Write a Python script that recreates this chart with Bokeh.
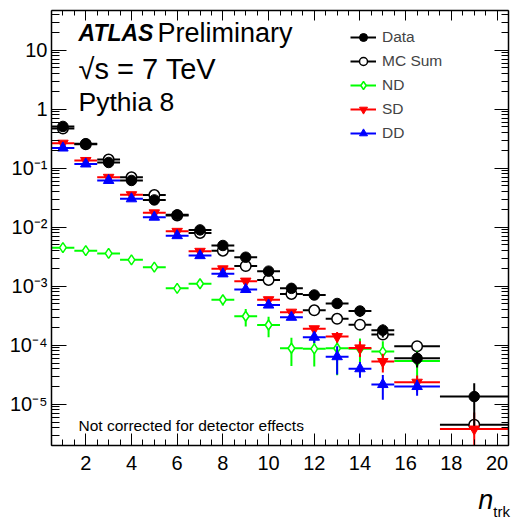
import numpy as np
from bokeh.plotting import figure
from bokeh.layouts import column
from bokeh.models import (ColumnDataSource, Range1d, LinearAxis, LogAxis, FixedTicker,
                          CustomJSTickFormatter, Label, Legend, LegendItem, Div)
from bokeh.embed import file_html
from bokeh.resources import INLINE

# ---------------- data ----------------
n_trk = [1, 2, 3, 4, 5, 6, 7, 8, 9, 10, 11, 12, 13, 14, 15, 16.5, 19]
bin_half_width = [0.5] * 15 + [1.0, 1.5]

data_vals = [0.51, 0.26, 0.125, 0.062, 0.029, 0.0162, 0.0090, 0.0049, 0.0031, 0.0018,
             0.00092, 0.00071, 0.00051, 0.00038, 0.00018, 6.0e-5, 1.35e-5]
data_rel_err = [0.01, 0.01, 0.01, 0.015, 0.02, 0.03, 0.04, 0.05, 0.07, 0.09,
                0.11, 0.13, 0.16, 0.2, 0.25, 0.3, 0.68]

mc_sum_vals = [0.47, 0.255, 0.14, 0.070, 0.035, 0.0158, 0.0080, 0.0040, 0.0022, 0.00128,
               0.00074, 0.00039, 0.00028, 0.000222, 0.000152, 9.6e-5, 4.5e-6]
mc_sum_rel_err = [0.01, 0.01, 0.01, 0.01, 0.01, 0.01, 0.01, 0.01, 0.02, 0.03,
                  0.04, 0.05, 0.06, 0.08, 0.1, 0.12, 0.15]

nd_vals = [0.0045, 0.0040, 0.0036, 0.0028, 0.0021, 0.00092, 0.0011, 0.00059, 0.00031, 0.00022,
           8.9e-5, 8.7e-5, 8.9e-5, 8.7e-5, 7.8e-5, 5.4e-5, float("nan")]
nd_rel_err = [0.05, 0.05, 0.05, 0.06, 0.07, 0.1, 0.1, 0.2, 0.33, 0.38,
              0.5, 0.5, 0.65, 0.5, 0.5, 0.5, float("nan")]

sd_vals = [0.265, 0.135, 0.070, 0.0355, 0.0175, 0.0085, 0.0039, 0.00197, 0.00122, 0.00059,
           0.000363, 0.00019, 0.00014, 9.0e-5, 5.3e-5, 2.36e-5, 3.8e-6]
sd_rel_err = [0.01, 0.01, 0.01, 0.01, 0.01, 0.02, 0.03, 0.04, 0.06, 0.08,
              0.1, 0.12, 0.2, 0.3, 0.35, 0.3, 0.9]

dd_vals = [0.22, 0.118, 0.062, 0.0303, 0.0148, 0.0072, 0.0033, 0.00162, 0.00088, 0.00048,
           0.000298, 0.000137, 6.4e-5, 4.0e-5, 2.16e-5, 2.0e-5, float("nan")]
dd_rel_err = [0.01, 0.01, 0.01, 0.01, 0.01, 0.02, 0.03, 0.04, 0.06, 0.08,
              0.1, 0.2, 0.5, 0.3, 0.45, 0.3, float("nan")]

x_tick_values = [2, 4, 6, 8, 10, 12, 14, 16, 18, 20]
y_tick_exponents = [-5, -4, -3, -2, -1, 0, 1]

FONT = "Liberation Sans"

p = figure(width=511, height=480, output_backend="svg", toolbar_location=None,
           y_axis_type="log", x_range=Range1d(0.5, 20.5), y_range=Range1d(2e-6, 47),
           min_border_left=51, min_border_right=3, min_border_top=10, min_border_bottom=35)
p.outline_line_color = None
p.xgrid.visible = False
p.ygrid.visible = False
p.background_fill_color = "white"
p.border_fill_color = "white"

x_minor = list(np.arange(0.5, 20.51, 0.5))
y_major = [10.0 ** e for e in y_tick_exponents]
y_minor = [m * 10.0 ** e for e in range(-6, 2) for m in range(2, 10)]

sup_js = """
const e = Math.round(Math.log10(tick));
if (e === 0) return "1";
if (e === 1) return "10";
const m = {"-":"\u207b","0":"\u2070","1":"\u00b9","2":"\u00b2","3":"\u00b3","4":"\u2074",
           "5":"\u2075","6":"\u2076","7":"\u2077","8":"\u2078","9":"\u2079"};
return "10" + String(e).split("").map(c => m[c]).join("");
"""
blank_js = 'return "";'


def style_axis(ax, major_in, minor_in, labels=True):
    ax.axis_line_color = "black"
    ax.axis_line_width = 1.5
    ax.major_tick_line_color = "black"
    ax.minor_tick_line_color = "black"
    ax.major_tick_in = major_in
    ax.major_tick_out = 0
    ax.minor_tick_in = minor_in
    ax.minor_tick_out = 0
    ax.major_label_text_font = FONT
    ax.major_label_text_font_size = "20px"
    ax.major_label_text_color = "black"
    if not labels:
        ax.major_label_standoff = 0
        ax.formatter = CustomJSTickFormatter(code=blank_js)


# bottom axis
xa = p.xaxis[0]
xa.ticker = FixedTicker(ticks=x_tick_values, minor_ticks=x_minor)
style_axis(xa, 12, 6)
xa.major_label_standoff = 10

# left axis
ya = p.yaxis[0]
ya.ticker = FixedTicker(ticks=y_major, minor_ticks=y_minor)
ya.formatter = CustomJSTickFormatter(code=sup_js)
style_axis(ya, 15, 8)
ya.major_label_standoff = 4

# top and right axes
top = LinearAxis(ticker=FixedTicker(ticks=x_tick_values, minor_ticks=x_minor))
style_axis(top, 10, 5, labels=False)
p.add_layout(top, "above")
right = LogAxis(ticker=FixedTicker(ticks=y_major, minor_ticks=y_minor))
style_axis(right, 14, 7, labels=False)
p.add_layout(right, "right")


def series(vals, rel, color, marker, fill, size, lw_marker):
    v = np.array(vals, dtype=float)
    r = np.array(rel, dtype=float)
    x = np.array(n_trk, dtype=float)
    hw = np.array(bin_half_width, dtype=float)
    lo = np.maximum(v * (1 - r), 1e-9)
    hi = v * (1 + r)
    src = ColumnDataSource(dict(x=x, y=v, x0=x - hw, x1=x + hw, lo=lo, hi=hi))
    hseg = p.segment(x0="x0", y0="y", x1="x1", y1="y", source=src, line_color=color, line_width=2)
    p.segment(x0="x", y0="lo", x1="x", y1="hi", source=src, line_color=color, line_width=2)
    sc = p.scatter(x="x", y="y", source=src, marker=marker, size=size, line_color=color,
                   fill_color=fill, line_width=lw_marker)
    return [hseg, sc]


r_mc = series(mc_sum_vals, mc_sum_rel_err, "black", "circle", "white", 10.5, 1.5)
r_nd = series(nd_vals, nd_rel_err, "#00ff00", "diamond", "white", 10, 1.5)
r_sd = series(sd_vals, sd_rel_err, "#ff0000", "inverted_triangle", "#ff0000", 10.5, 1)
r_dd = series(dd_vals, dd_rel_err, "#0000ff", "triangle", "#0000ff", 10.5, 1)
r_data = series(data_vals, data_rel_err, "black", "circle", "black", 10.5, 1)

legend = Legend(items=[LegendItem(label="Data", renderers=r_data),
                       LegendItem(label="MC Sum", renderers=r_mc),
                       LegendItem(label="ND", renderers=r_nd),
                       LegendItem(label="SD", renderers=r_sd),
                       LegendItem(label="DD", renderers=r_dd)],
                location=(299, 302), border_line_color=None, background_fill_alpha=0,
                padding=0, margin=0, spacing=4, glyph_width=26, glyph_height=20,
                label_height=20, label_standoff=6, label_text_font=FONT,
                label_text_font_size="15.5px", label_text_baseline="middle")
p.add_layout(legend)


def lab(text, x, y, size, style="normal"):
    p.add_layout(Label(x=x, y=y, x_units="screen", y_units="screen", text=text,
                       text_font=FONT, text_font_size=size, text_font_style=style,
                       text_baseline="middle", text_align="left", text_color="black"))


lab("ATLAS", 27, 413, "23px", "bold italic")
lab("Preliminary", 106, 413, "27px")
lab("\u221as = 7 TeV", 27, 377, "29px")
lab("Pythia 8", 27, 344, "26.5px")
lab("Not corrected for detector effects", 27, 20, "15.5px")

xlabel = Div(
    text=("<span style=\"font-family:'Liberation Sans'; font-size:27px; font-style:italic;\">n</span>"
          "<span style=\"font-family:'Liberation Sans'; font-size:15px; position:relative; top:8px;\">trk</span>"),
    width=511, height=40, margin=0,
    styles={"text-align": "right", "line-height": "40px", "padding-right": "1px", "color": "black"})

layout = column(p, xlabel, spacing=0)
open("out.html", "w").write(file_html(layout, INLINE))
